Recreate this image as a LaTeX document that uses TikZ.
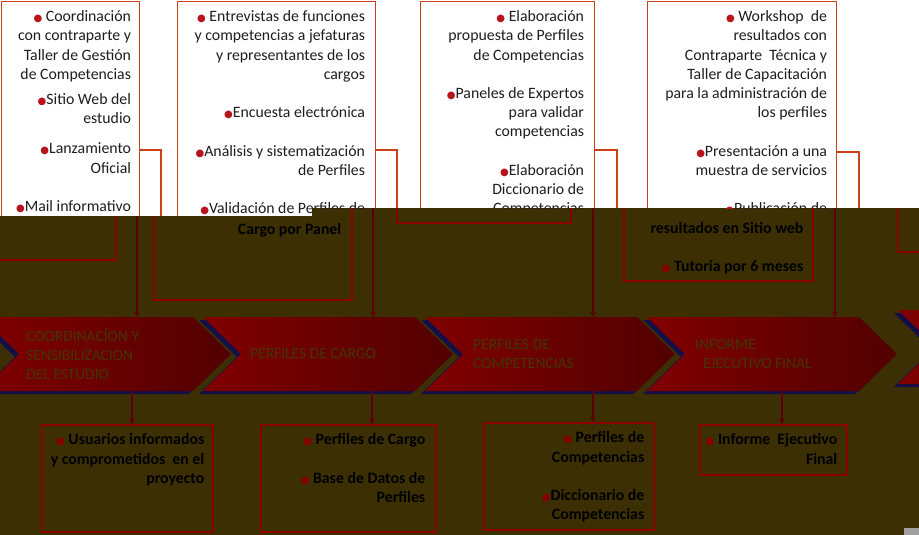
\documentclass[tikz,border=0pt]{standalone}
\usepackage{fontspec}
\setmainfont{Carlito}
\newfontfamily\symfont{DejaVu Sans}
\usepackage{tikz}
\usetikzlibrary{arrows.meta, positioning, calc}
\definecolor{olivebg}{RGB}{59,47,3}
\definecolor{wline}{RGB}{205,65,25}
\definecolor{wtext}{RGB}{30,30,30}
\definecolor{wbul}{RGB}{185,20,30}
\definecolor{dline}{RGB}{140,0,0}
\definecolor{dconnc}{RGB}{95,0,0}
\definecolor{dtext}{RGB}{0,0,0}
\definecolor{dbul}{RGB}{135,0,0}
\definecolor{chR}{RGB}{128,0,0}
\definecolor{chD}{RGB}{80,0,0}
\definecolor{navyshd}{RGB}{20,15,70}
\definecolor{chtext}{RGB}{66,54,4}
\tikzset{
  wbox/.style={rectangle, draw=wline, line width=1.2pt, anchor=north west, inner sep=0pt},
  dbox/.style={rectangle, draw=dline, line width=1.5pt, anchor=north west, inner sep=0pt},
  wtxt/.style={anchor=north east, inner sep=0pt, align=right, text=wtext,
    font=\fontsize{15.8}{19.2}\selectfont, execute at begin node=\rule{0pt}{12pt}},
  dtxt/.style={anchor=north east, inner sep=0pt, align=right, text=dtext,
    font=\fontsize{15.8}{19.2}\selectfont\bfseries, execute at begin node=\rule{0pt}{12pt}},
  wconn/.style={draw=wline, line width=1.1pt, -{Triangle[length=5pt,width=5pt]}},
  dconn/.style={draw=dconnc, line width=1.6pt, -{Triangle[length=5pt,width=5pt]}},
  chtxt/.style={anchor=west, inner sep=0pt, align=left, text=chtext,
    font=\fontsize{15.5}{19}\selectfont}
}
\newcommand{\bul}[1]{{\symfont\fontsize{10}{10}\selectfont\textcolor{#1}{●}}}
\newcommand{\chevshape}[2]{%
  \fill[navyshd] (#1-4,#2+3) -- ++(212,0) -- ++(38,37) -- ++(-38,37) -- ++(-212,0) -- ++(38,-37) -- cycle;
  \begin{scope}
    \clip (#1,#2) -- ++(212,0) -- ++(38,37) -- ++(-38,37) -- ++(-212,0) -- ++(38,-37) -- cycle;
    \foreach \s in {0,...,24} {
      \pgfmathsetmacro{\mix}{100-4*\s}
      \fill[chR!\mix!chD] (#1+10*\s,#2-1) rectangle ++(10.6,76);
    }
  \end{scope}
}
\newcommand{\framelayer}[1]{%
  \node[#1box, minimum width=138, minimum height=258] (#1b1) at (-23,1) {};
  \node[#1box, minimum width=198, minimum height=298] (#1b2) at (153,1) {};
  \node[#1box, minimum width=174, minimum height=221] (#1b3) at (396,1) {};
  \node[#1box, minimum width=189, minimum height=279] (#1b4) at (623,1) {};
  \node[#1box, minimum width=200, minimum height=250] (#1b5) at (897,1) {};
  \coordinate (#1k1) at (137,317);
  \coordinate (#1k2) at (373,317);
  \coordinate (#1k3) at (593,317);
  \coordinate (#1k4) at (835,317);
  \draw[#1conn] ([yshift=-149pt]#1b1.north east) -| (#1k1);
  \draw[#1conn] ([yshift=-149pt]#1b2.north east) -| (#1k2);
  \draw[#1conn] ([yshift=-149pt]#1b3.north east) -| (#1k3);
  \draw[#1conn] ([yshift=-151pt]#1b4.north east) -| (#1k4);
}

\begin{document}
\begin{tikzpicture}[x=1pt, y=-1pt]
  \useasboundingbox (0,0) rectangle (919,535);
  \clip (0,0) rectangle (919,535);
  \fill[white] (0,0) rectangle (919,535);
  \fill[olivebg] (0,216) -- (312,216) -- (312,208) -- (919,208) -- (919,535) -- (0,535) -- cycle;

  \foreach \cx in {-19,203,425,647} {\chevshape{\cx}{317}}
  \chevshape{898}{310}

  \begin{scope}
    \clip (0,0) -- (919,0) -- (919,208) -- (312,208) -- (312,216) -- (0,216) -- cycle;
    \begin{scope}[xshift=24pt]
      \framelayer{w}
    \end{scope}
    \node[wtxt] (wt1) at ([xshift=-9pt,yshift=-9.6pt]wb1.north east)
      {\bul{wbul} Coordinación\\con contraparte y\\Taller de Gestión\\de Competencias\\[6pt]
       \bul{wbul}Sitio Web del\\estudio\\[11pt]\bul{wbul}Lanzamiento\\Oficial\\[19.2pt]
       \bul{wbul}Mail informativo};
    \node[wtxt] (wt2) at ([xshift=-11pt,yshift=-9.6pt]wb2.north east)
      {\bul{wbul} Entrevistas de funciones\\y competencias a jefaturas\\y representantes de los\\cargos\\[19.2pt]
       \bul{wbul}Encuesta electrónica\\[19.2pt]\bul{wbul}Análisis y sistematización\\de Perfiles\\[19.2pt]
       \bul{wbul}Validación de Perfiles de};
    \node[wtxt] (wt3) at ([xshift=-11pt,yshift=-9.6pt]wb3.north east)
      {\bul{wbul} Elaboración\\propuesta de Perfiles\\de Competencias\\[19.2pt]
       \bul{wbul}Paneles de Expertos\\para validar\\competencias\\[19.2pt]
       \bul{wbul}Elaboración\\Diccionario de\\Competencias};
    \node[wtxt] (wt4) at ([xshift=-10pt,yshift=-9.6pt]wb4.north east)
      {\bul{wbul} Workshop~ de\\resultados con\\Contraparte~ Técnica y\\Taller de Capacitación\\para la administración de\\los perfiles\\[19.2pt]
       \bul{wbul}Presentación a una\\muestra de servicios\\[19.2pt]
       \bul{wbul}Publicación de};
  \end{scope}

  \begin{scope}
    \clip (0,216) -- (312,216) -- (312,208) -- (919,208) -- (919,535) -- (0,535) -- cycle;
    \framelayer{d}
    \node[dtxt] (dt2) at ([xshift=-11pt,yshift=-220.8pt]db2.north east) {Cargo por Panel};
    \node[dtxt] (dt4) at ([xshift=-10pt,yshift=-220.8pt]db4.north east)
      {resultados en Sitio web\\[19.2pt]\bul{dbul} Tutoria por 6 meses};
  \end{scope}

  \node[chtxt] (ch1) at (26,354) {COORDINACÍON Y\\SENSIBILIZACION\\DEL ESTUDIO};
  \node[chtxt] (ch2) at (250,354) {PERFILES DE CARGO};
  \node[chtxt] (ch3) at (473,354) {PERFILES DE\\COMPETENCIAS};
  \node[chtxt] (ch4) at (695,354) {INFORME\\\hspace*{8pt}EJECUTIVO FINAL};

  \node[dbox, minimum width=171, minimum height=107] (ob1) at (41,424) {};
  \node[dbox, minimum width=175, minimum height=107] (ob2) at (260,424) {};
  \node[dbox, minimum width=170, minimum height=107] (ob3) at (483,422) {};
  \node[dbox, minimum width=147, minimum height=50] (ob4) at (699,424) {};
  \node[dtxt] (ot1) at ([xshift=-9pt,yshift=-9.6pt]ob1.north east)
    {\bul{dbul} Usuarios informados\\y comprometidos~ en el\\proyecto};
  \node[dtxt] (ot2) at ([xshift=-11pt,yshift=-9.6pt]ob2.north east)
    {\bul{dbul} Perfiles de Cargo\\[19.2pt]\bul{dbul} Base de Datos de\\Perfiles};
  \node[dtxt] (ot3) at ([xshift=-10pt,yshift=-9.6pt]ob3.north east)
    {\bul{dbul} Perfiles de\\Competencias\\[19.2pt]\bul{dbul}Diccionario de\\Competencias};
  \node[dtxt] (ot4) at ([xshift=-10pt,yshift=-9.6pt]ob4.north east)
    {\bul{dbul} Informe~ Ejecutivo\\Final};

  \coordinate (cb1) at (132,391);
  \coordinate (cb2) at (372,391);
  \coordinate (cb3) at (593,391);
  \coordinate (cb4) at (782,391);
  \draw[dconn] (cb1) -- (cb1 |- ob1.north);
  \draw[dconn] (cb2) -- (cb2 |- ob2.north);
  \draw[dconn] (cb3) -- (cb3 |- ob3.north);
  \draw[dconn] (cb4) -- (cb4 |- ob4.north);

  \fill[gray!75] (904,528) rectangle (919,535);
\end{tikzpicture}
\end{document}
